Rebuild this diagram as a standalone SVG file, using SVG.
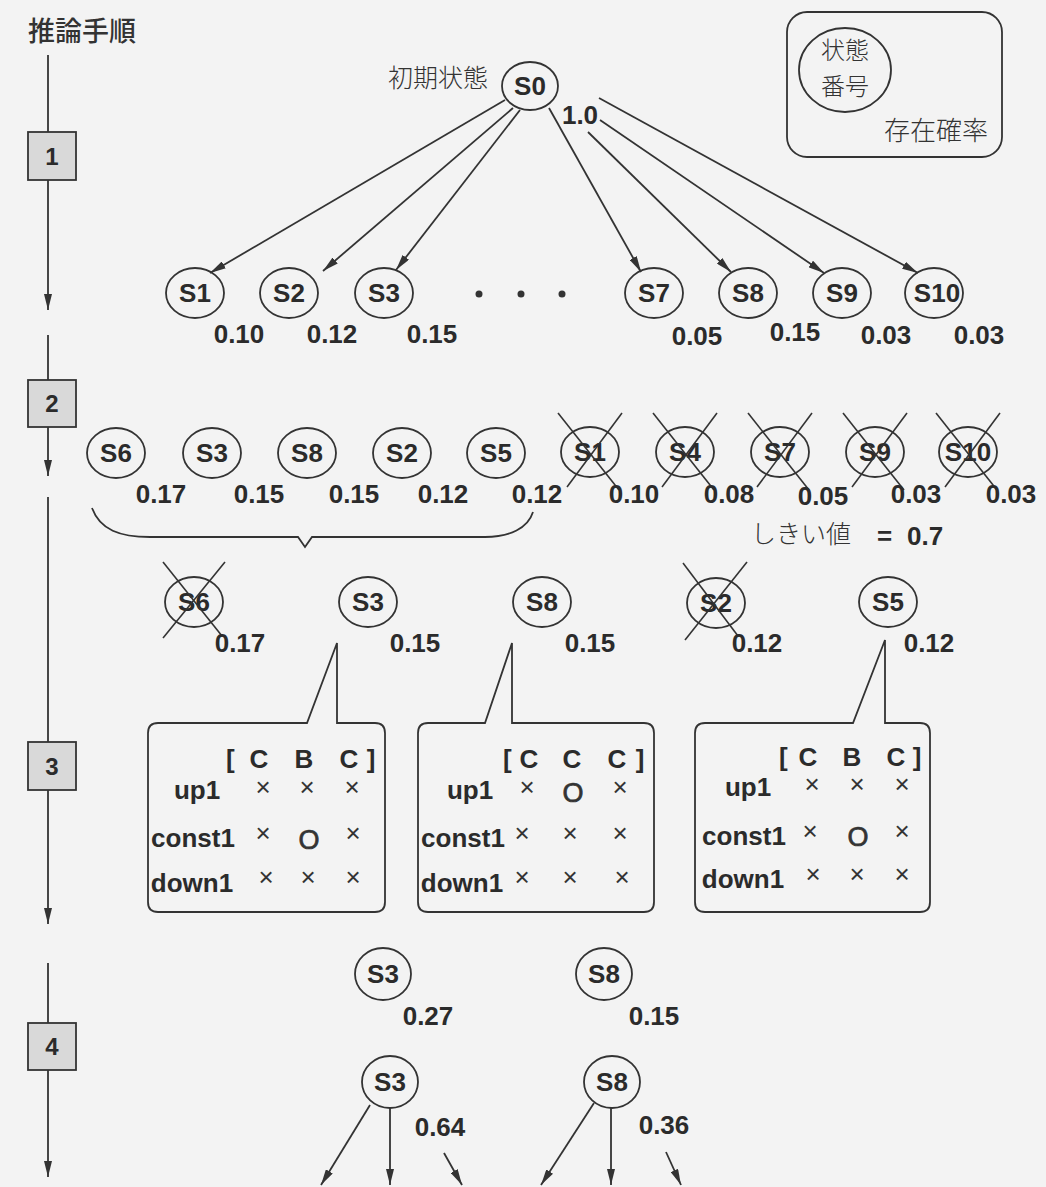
<svg xmlns="http://www.w3.org/2000/svg" width="1046" height="1187" viewBox="0 0 1046 1187">
<defs>
<marker id="ah" viewBox="0 0 16 8" refX="16" refY="4" markerWidth="16" markerHeight="8" markerUnits="userSpaceOnUse" orient="auto"><path d="M0,0 L16,4 L0,8 Z" fill="#333"/></marker>
<style>
.ln{stroke:#333;stroke-width:1.8;fill:none}
.ar{stroke:#333;stroke-width:1.8;fill:none;marker-end:url(#ah)}
.nd{fill:none;stroke:#333;stroke-width:1.8}
.nt{font-family:"Liberation Sans",Arial,sans-serif;font-weight:bold;font-size:26px;fill:#2b2b2b;text-anchor:middle}
.pr{font-family:"Liberation Sans",Arial,sans-serif;font-weight:bold;font-size:26px;fill:#2b2b2b;text-anchor:middle}
.jp{font-family:"Noto Sans CJK JP","Noto Sans CJK SC",sans-serif;fill:#333;font-weight:300}
.sb{fill:#d9d9d9;stroke:#333;stroke-width:1.8}
.x{stroke:#333;stroke-width:1.6}
.cell{font-family:"Liberation Sans",Arial,sans-serif;font-size:26px;fill:#333;text-anchor:middle}
.oo{font-family:"Liberation Sans",Arial,sans-serif;font-size:27px;fill:#333;stroke:#333;stroke-width:0.7;text-anchor:middle}
.rl{font-family:"Liberation Sans",Arial,sans-serif;font-weight:bold;font-size:26px;fill:#2b2b2b;text-anchor:middle}
.bx{fill:none;stroke:#333;stroke-width:1.8}
</style>
</defs>
<rect width="1046" height="1187" fill="#f3f3f3"/>

<g id="axis">
<text x="28" y="41" class="jp" style="font-size:27px;font-weight:500">推論手順</text>
<line x1="48" y1="55" x2="48" y2="310" class="ar"/>
<line x1="48" y1="335" x2="48" y2="476" class="ar"/>
<line x1="48" y1="497" x2="48" y2="924" class="ar"/>
<line x1="48" y1="963" x2="48" y2="1177" class="ar"/>
</g>
<g id="step1"><rect x="28" y="132" width="48" height="48" class="sb"/><text x="52" y="165" class="nt" style="font-size:24px">1</text></g>
<g id="step2"><rect x="28" y="380" width="48" height="47" class="sb"/><text x="52" y="412" class="nt" style="font-size:24px">2</text></g>
<g id="step3"><rect x="28" y="742" width="48" height="48" class="sb"/><text x="52" y="775" class="nt" style="font-size:24px">3</text></g>
<g id="step4"><rect x="28" y="1023" width="48" height="47" class="sb"/><text x="52" y="1055" class="nt" style="font-size:24px">4</text></g>

<g id="legend">
<rect x="787" y="12" width="215" height="145" rx="20" class="bx"/>
<ellipse cx="845" cy="70" rx="46" ry="42" class="nd"/>
<text x="845" y="59" class="jp" style="font-size:24px" text-anchor="middle">状態</text>
<text x="845" y="95" class="jp" style="font-size:24px" text-anchor="middle">番号</text>
<text x="884" y="140" class="jp" style="font-size:26px">存在確率</text>
</g>

<g id="connectors">
<line x1="505" y1="100" x2="210" y2="273" class="ar"/>
<line x1="513" y1="108" x2="323" y2="271" class="ar"/>
<line x1="520" y1="110" x2="396" y2="270" class="ar"/>
<line x1="549" y1="108" x2="641" y2="272" class="ar"/>
<line x1="588" y1="132" x2="731" y2="272" class="ar"/>
<line x1="600" y1="120" x2="824" y2="273" class="ar"/>
<line x1="599" y1="98" x2="918" y2="273" class="ar"/>
<path d="M92,508 C100,530 120,537 150,537 L298,537 L305,547 L312,537 L485,537 C510,537 528,528 533,512" class="ln"/>
<line x1="370" y1="1105" x2="321" y2="1185" class="ar"/>
<line x1="390" y1="1108" x2="390" y2="1185" class="ar"/>
<line x1="444" y1="1153" x2="462" y2="1185" class="ar"/>
<line x1="594" y1="1103" x2="541" y2="1185" class="ar"/>
<line x1="611" y1="1108" x2="611" y2="1185" class="ar"/>
<line x1="666" y1="1152" x2="681" y2="1185" class="ar"/>
</g>

<g id="s0"><ellipse cx="530" cy="86" rx="28" ry="24" class="nd"/><text x="530" y="95" class="nt">S0</text>
<text x="388" y="87" class="jp" style="font-size:25px">初期状態</text>
<text x="580" y="124" class="pr">1.0</text></g>
<g id="r1s1"><ellipse cx="195" cy="293" rx="29" ry="25" class="nd"/><text x="195" y="302" class="nt">S1</text><text x="239" y="343" class="pr">0.10</text></g>
<g id="r1s2"><ellipse cx="289" cy="293" rx="29" ry="25" class="nd"/><text x="289" y="302" class="nt">S2</text><text x="332" y="343" class="pr">0.12</text></g>
<g id="r1s3"><ellipse cx="384" cy="293" rx="29" ry="25" class="nd"/><text x="384" y="302" class="nt">S3</text><text x="432" y="343" class="pr">0.15</text></g>
<g id="dots"><circle cx="479" cy="294" r="3.5" fill="#333"/><circle cx="521" cy="294" r="3.5" fill="#333"/><circle cx="562" cy="294" r="3.5" fill="#333"/></g>
<g id="r1s7"><ellipse cx="654" cy="293" rx="29" ry="25" class="nd"/><text x="654" y="302" class="nt">S7</text><text x="697" y="345" class="pr">0.05</text></g>
<g id="r1s8"><ellipse cx="748" cy="293" rx="29" ry="25" class="nd"/><text x="748" y="302" class="nt">S8</text><text x="795" y="341" class="pr">0.15</text></g>
<g id="r1s9"><ellipse cx="842" cy="293" rx="29" ry="25" class="nd"/><text x="842" y="302" class="nt">S9</text><text x="886" y="344" class="pr">0.03</text></g>
<g id="r1s10"><ellipse cx="934" cy="293" rx="29" ry="25" class="nd"/><text x="937" y="302" class="nt">S10</text><text x="979" y="344" class="pr">0.03</text></g>

<g id="r2s6"><ellipse cx="116" cy="453" rx="29" ry="25" class="nd"/><text x="116" y="462" class="nt">S6</text><text x="161" y="503" class="pr">0.17</text></g>
<g id="r2s3"><ellipse cx="212" cy="453" rx="29" ry="25" class="nd"/><text x="212" y="462" class="nt">S3</text><text x="259" y="503" class="pr">0.15</text></g>
<g id="r2s8"><ellipse cx="307" cy="453" rx="29" ry="25" class="nd"/><text x="307" y="462" class="nt">S8</text><text x="354" y="503" class="pr">0.15</text></g>
<g id="r2s2"><ellipse cx="402" cy="453" rx="29" ry="25" class="nd"/><text x="402" y="462" class="nt">S2</text><text x="443" y="503" class="pr">0.12</text></g>
<g id="r2s5"><ellipse cx="496" cy="453" rx="29" ry="25" class="nd"/><text x="496" y="462" class="nt">S5</text><text x="537" y="503" class="pr">0.12</text></g>
<g id="r2s1"><ellipse cx="590" cy="452" rx="29" ry="25" class="nd"/><text x="590" y="461" class="nt">S1</text><line x1="558" y1="413" x2="619" y2="490" class="x"/><line x1="622" y1="413" x2="567" y2="487" class="x"/><text x="634" y="503" class="pr">0.10</text></g>
<g id="r2s4"><ellipse cx="685" cy="452" rx="29" ry="25" class="nd"/><text x="685" y="461" class="nt">S4</text><line x1="653" y1="413" x2="714" y2="490" class="x"/><line x1="717" y1="413" x2="662" y2="487" class="x"/><text x="729" y="503" class="pr">0.08</text></g>
<g id="r2s7"><ellipse cx="780" cy="452" rx="29" ry="25" class="nd"/><text x="780" y="461" class="nt">S7</text><line x1="748" y1="413" x2="809" y2="490" class="x"/><line x1="812" y1="413" x2="757" y2="487" class="x"/><text x="823" y="505" class="pr">0.05</text></g>
<g id="r2s9"><ellipse cx="875" cy="452" rx="29" ry="25" class="nd"/><text x="875" y="461" class="nt">S9</text><line x1="843" y1="413" x2="904" y2="490" class="x"/><line x1="907" y1="413" x2="852" y2="487" class="x"/><text x="916" y="503" class="pr">0.03</text></g>
<g id="r2s10"><ellipse cx="968" cy="452" rx="29" ry="25" class="nd"/><text x="968" y="461" class="nt">S10</text><line x1="936" y1="413" x2="997" y2="490" class="x"/><line x1="1000" y1="413" x2="945" y2="487" class="x"/><text x="1011" y="503" class="pr">0.03</text></g>
<g id="threshold"><text x="751" y="543" class="jp" style="font-size:25px">しきい値</text><text x="877" y="545" class="pr" style="text-anchor:start">= <tspan x="907">0.7</tspan></text></g>

<g id="r3s6"><ellipse cx="194" cy="602" rx="29" ry="25" class="nd"/><text x="194" y="611" class="nt">S6</text><line x1="163" y1="562" x2="222" y2="636" class="x"/><line x1="225" y1="562" x2="163" y2="638" class="x"/><text x="240" y="652" class="pr">0.17</text></g>
<g id="r3s3"><ellipse cx="368" cy="602" rx="29" ry="25" class="nd"/><text x="368" y="611" class="nt">S3</text><text x="415" y="652" class="pr">0.15</text></g>
<g id="r3s8"><ellipse cx="542" cy="602" rx="29" ry="25" class="nd"/><text x="542" y="611" class="nt">S8</text><text x="590" y="652" class="pr">0.15</text></g>
<g id="r3s2"><ellipse cx="716" cy="603" rx="29" ry="25" class="nd"/><text x="716" y="612" class="nt">S2</text><line x1="683" y1="563" x2="738" y2="636" class="x"/><line x1="747" y1="562" x2="685" y2="640" class="x"/><text x="757" y="652" class="pr">0.12</text></g>
<g id="r3s5"><ellipse cx="888" cy="602" rx="29" ry="25" class="nd"/><text x="888" y="611" class="nt">S5</text><text x="929" y="652" class="pr">0.12</text></g>

<g id="box1">
<path d="M158,723 H307 L337,643 V723 H375 Q385,723 385,733 V902 Q385,912 375,912 H158 Q148,912 148,902 V733 Q148,723 158,723 Z" class="bx"/>
<text x="226" y="768" class="rl" style="text-anchor:start">[</text><text x="259" y="768" class="rl">C</text><text x="304" y="768" class="rl">B</text><text x="349" y="768" class="rl">C</text><text x="371" y="768" class="rl">]</text>
<text x="197" y="799" class="rl">up1</text><text x="263" y="796" class="cell">×</text><text x="307" y="796" class="cell">×</text><text x="352" y="796" class="cell">×</text>
<text x="193" y="847" class="rl">const1</text><text x="263" y="842" class="cell">×</text><text x="309" y="849" class="oo">O</text><text x="353" y="842" class="cell">×</text>
<text x="192" y="892" class="rl">down1</text><text x="266" y="886" class="cell">×</text><text x="308" y="886" class="cell">×</text><text x="353" y="886" class="cell">×</text>
</g>
<g id="box2">
<path d="M428,723 H485 L512,643 V723 H644 Q654,723 654,733 V902 Q654,912 644,912 H428 Q418,912 418,902 V733 Q418,723 428,723 Z" class="bx"/>
<text x="503" y="768" class="rl" style="text-anchor:start">[</text><text x="529" y="768" class="rl">C</text><text x="572" y="768" class="rl">C</text><text x="617" y="768" class="rl">C</text><text x="640" y="768" class="rl">]</text>
<text x="470" y="799" class="rl">up1</text><text x="527" y="796" class="cell">×</text><text x="573" y="802" class="oo">O</text><text x="620" y="796" class="cell">×</text>
<text x="463" y="847" class="rl">const1</text><text x="522" y="842" class="cell">×</text><text x="570" y="842" class="cell">×</text><text x="620" y="842" class="cell">×</text>
<text x="462" y="892" class="rl">down1</text><text x="522" y="886" class="cell">×</text><text x="570" y="886" class="cell">×</text><text x="622" y="886" class="cell">×</text>
</g>
<g id="box3">
<path d="M705,723 H853 L885,640 V723 H920 Q930,723 930,733 V902 Q930,912 920,912 H705 Q695,912 695,902 V733 Q695,723 705,723 Z" class="bx"/>
<text x="779" y="766" class="rl" style="text-anchor:start">[</text><text x="808" y="766" class="rl">C</text><text x="852" y="766" class="rl">B</text><text x="896" y="766" class="rl">C</text><text x="917" y="766" class="rl">]</text>
<text x="748" y="796" class="rl">up1</text><text x="812" y="793" class="cell">×</text><text x="857" y="793" class="cell">×</text><text x="902" y="793" class="cell">×</text>
<text x="744" y="845" class="rl">const1</text><text x="810" y="840" class="cell">×</text><text x="858" y="846" class="oo">O</text><text x="902" y="840" class="cell">×</text>
<text x="743" y="888" class="rl">down1</text><text x="813" y="883" class="cell">×</text><text x="857" y="883" class="cell">×</text><text x="902" y="883" class="cell">×</text>
</g>

<g id="r4s3"><ellipse cx="383" cy="974" rx="28" ry="26" class="nd"/><text x="383" y="983" class="nt">S3</text><text x="428" y="1025" class="pr">0.27</text></g>
<g id="r4s8"><ellipse cx="604" cy="974" rx="28" ry="26" class="nd"/><text x="604" y="983" class="nt">S8</text><text x="654" y="1025" class="pr">0.15</text></g>
<g id="r5s3"><ellipse cx="390" cy="1082" rx="28" ry="26" class="nd"/><text x="390" y="1091" class="nt">S3</text><text x="440" y="1136" class="pr">0.64</text></g>
<g id="r5s8"><ellipse cx="612" cy="1082" rx="28" ry="26" class="nd"/><text x="612" y="1091" class="nt">S8</text><text x="664" y="1134" class="pr">0.36</text></g>
</svg>
